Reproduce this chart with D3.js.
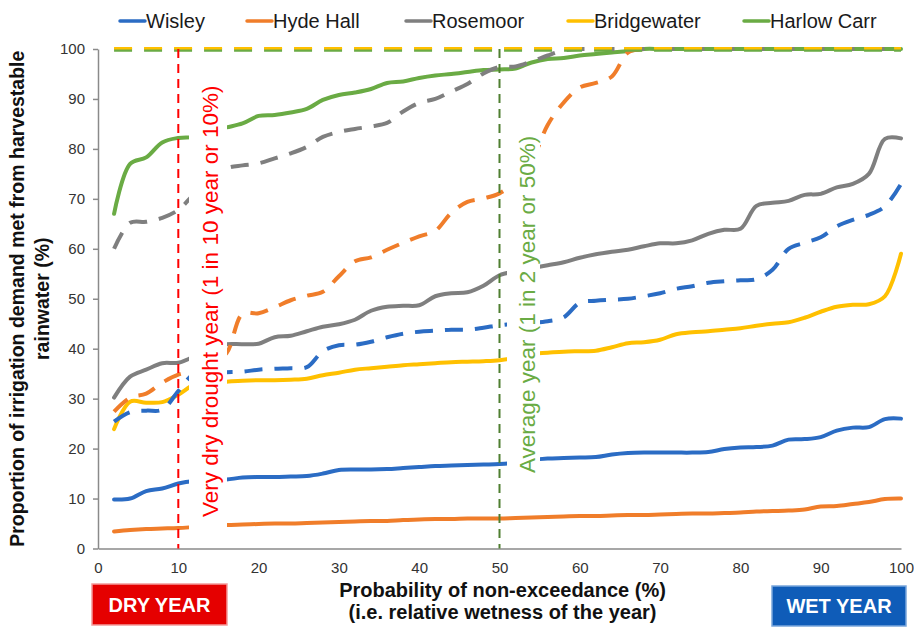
<!DOCTYPE html>
<html>
<head>
<meta charset="utf-8">
<script src="https://cdn.jsdelivr.net/npm/d3@7"></script>
<style>
  body { margin: 0; background: #ffffff; }
  svg { display: block; font-family: "Liberation Sans", Arial, sans-serif; }
</style>
</head>
<body>
<svg id="chart" width="914" height="628"></svg>
<script>
// ---------------- DATA ----------------
const probability = [2,4,6,8,10,12,14,16,18,20,22,24,26,28,30,32,34,36,38,40,
  42,44,46,48,50,52,54,56,58,60,62,64,66,68,70,72,74,76,78,80,
  82,84,86,88,90,92,94,96,98,100];

const wisleySolid = [9.8,10.0,11.5,12.0,13.0,13.5,13.6,13.8,14.2,14.3,
  14.3,14.4,14.5,15.0,15.7,15.8,15.8,15.9,16.1,16.3,
  16.5,16.6,16.7,16.8,16.9,17.2,17.7,18.0,18.1,18.2,
  18.3,18.8,19.1,19.2,19.2,19.2,19.2,19.3,19.9,20.2,
  20.3,20.6,21.8,21.9,22.3,23.6,24.2,24.3,25.9,26.0];
const wisleyDashed = [25.4,27.3,27.6,27.8,31.5,35.0,35.2,35.3,35.4,35.8,
  36.0,36.1,36.3,39.5,40.7,40.8,41.4,42.3,43.0,43.4,
  43.6,43.8,43.8,44.2,44.7,45.0,45.2,45.5,46.3,49.2,
  49.6,49.8,50.0,50.5,51.1,52.0,52.5,53.2,53.5,53.7,
  53.9,55.8,60.0,61.2,62.3,64.5,65.8,66.8,68.5,73.0];

const hydeSolid = [3.4,3.7,3.9,4.0,4.1,4.3,4.5,4.7,4.8,4.9,
  5.0,5.0,5.1,5.2,5.3,5.4,5.5,5.5,5.7,5.8,
  5.9,5.9,6.0,6.0,6.0,6.1,6.2,6.3,6.4,6.5,
  6.5,6.6,6.7,6.7,6.8,6.9,7.0,7.0,7.1,7.2,
  7.4,7.5,7.6,7.8,8.4,8.5,8.9,9.3,9.9,10.0];
const hydeDashed = [27.4,30.2,31.0,33.2,34.8,35.5,37.0,39.1,47.0,47.1,
  48.3,49.7,50.6,51.4,54.5,57.5,58.3,59.8,61.2,62.5,
  63.6,67.2,69.4,70.1,71.1,73.5,77.5,84.8,89.3,92.3,
  93.2,94.5,99.3,100,100,100,100,100,100,100,
  100,100,100,100,100,100,100,100,100,100];

const rosemoorSolid = [30.2,34.4,35.8,37.1,37.2,38.5,40.3,40.9,40.9,41.0,
  42.3,42.6,43.5,44.4,44.9,45.8,47.6,48.4,48.6,48.7,
  50.5,51.1,51.3,52.6,54.7,55.5,56.1,56.7,57.3,58.2,
  58.9,59.4,59.8,60.5,61.1,61.1,61.7,63.0,63.8,64.0,
  68.6,69.2,69.6,70.8,71.0,72.3,73.0,75.0,82.0,82.1];
const rosemoorDashed = [60.0,65.2,65.4,66.2,67.8,71.0,74.0,76.1,76.7,77.1,
  78.1,79.1,80.4,82.4,83.4,84.0,84.5,85.2,87.5,89.2,
  90.0,91.5,93.0,95.1,96.4,96.5,97.5,98.7,99.7,100,
  100,100,100,100,100,100,100,100,100,100,
  100,100,100,100,100,100,100,100,100,100];

const bridgewaterSolid = [23.9,29.4,29.2,29.3,30.8,32.8,33.2,33.4,33.6,33.7,
  33.7,33.8,34.0,34.7,35.2,35.8,36.1,36.4,36.7,36.9,
  37.1,37.3,37.4,37.5,37.7,38.2,39.0,39.2,39.4,39.5,
  39.6,40.3,41.1,41.3,41.8,42.9,43.3,43.5,43.8,44.1,
  44.6,45.0,45.3,46.2,47.4,48.4,48.8,48.9,50.5,59.0];
const bridgewaterDashed = [100,100,100,100,100,100,100,100,100,100,
  100,100,100,100,100,100,100,100,100,100,
  100,100,100,100,100,100,100,100,100,100,
  100,100,100,100,100,100,100,100,100,100,
  100,100,100,100,100,100,100,100,100,100];

const harlowSolid = [67.0,77.0,78.3,81.3,82.2,82.4,83.5,84.3,85.1,86.6,
  86.8,87.3,88.0,89.8,90.8,91.3,92.0,93.2,93.5,94.2,
  94.7,95.0,95.4,95.8,95.9,96.1,97.3,98.0,98.2,98.7,
  99.0,99.3,99.6,100,100,100,100,100,100,100,
  100,100,100,100,100,100,100,100,100,100];
const harlowDashed = [100,100,100,100,100,100,100,100,100,100,
  100,100,100,100,100,100,100,100,100,100,
  100,100,100,100,100,100,100,100,100,100,
  100,100,100,100,100,100,100,100,100,100,
  100,100,100,100,100,100,100,100,100,100];

const seriesNames = ["Wisley", "Hyde Hall", "Rosemoor", "Bridgewater", "Harlow Carr"];
const seriesColors = ["#2b6cc4", "#f07d2a", "#7f7f7f", "#ffc000", "#6aab44"];
const solidSeries = [wisleySolid, hydeSolid, rosemoorSolid, bridgewaterSolid, harlowSolid];
const dashedSeries = [wisleyDashed, hydeDashed, rosemoorDashed, bridgewaterDashed, harlowDashed];

const xTicks = [0,10,20,30,40,50,60,70,80,90,100];
const yTicks = [0,10,20,30,40,50,60,70,80,90,100];

const markers = [
  { value: 10, label: "Very dry drought year (1 in 10 year or 10%)", line: "#ff0000", text: "#ff0000" },
  { value: 50, label: "Average year (1 in 2 year or 50%)", line: "#4f7f30", text: "#6aab44" }
];

const xTitle = ["Probability of non-exceedance (%)", "(i.e. relative wetness of the year)"];
const yTitle = ["Proportion of irrigation demand met from harvestable", "rainwater (%)"];
const yearBoxes = [
  { label: "DRY YEAR", fill: "#e50000", stroke: "#f39a9a" },
  { label: "WET YEAR", fill: "#0f5cb8", stroke: "#7aa6dc" }
];

// ---------------- LAYOUT ----------------
const plot = { left: 98, right: 901, top: 49, bottom: 548.5 };
const svg = d3.select("#chart");

const x = d3.scaleLinear().domain([0, 100]).range([plot.left, plot.right]);
const y = d3.scaleLinear().domain([0, 100]).range([plot.bottom, plot.top]);

const axisColor = "#8a8a8a";
const textColor = "#333333";

// Axes
const yAxis = svg.append("g")
  .attr("transform", `translate(${plot.left},0)`)
  .call(d3.axisLeft(y).tickValues(yTicks).tickSize(5).tickSizeOuter(0).tickPadding(8));
yAxis.select(".domain").attr("stroke", axisColor).attr("stroke-width", 1.5);
yAxis.selectAll(".tick line").attr("stroke", axisColor).attr("stroke-width", 1.5);
yAxis.selectAll(".tick text").attr("font-size", 15).attr("fill", textColor)
  .attr("font-family", '"Liberation Sans", Arial, sans-serif');

const xAxis = svg.append("g")
  .attr("transform", `translate(0,${plot.bottom})`)
  .call(d3.axisBottom(x).tickValues(xTicks).tickSize(0).tickSizeOuter(0).tickPadding(14));
xAxis.select(".domain").attr("stroke", axisColor).attr("stroke-width", 1.5);
xAxis.selectAll(".tick text").attr("font-size", 15).attr("fill", textColor)
  .attr("font-family", '"Liberation Sans", Arial, sans-serif');

// Lines (smoothed like the original)
const lineGen = d3.line()
  .x((d, i) => x(probability[i]))
  .y(d => y(d))
  .curve(d3.curveCatmullRom.alpha(0.5));

const linesG = svg.append("g").attr("fill", "none").attr("stroke-linejoin", "round");

solidSeries.forEach((s, i) => {
  linesG.append("path")
    .attr("d", lineGen(s))
    .attr("stroke", seriesColors[i])
    .attr("stroke-width", 4)
    .attr("stroke-linecap", "round");
});

const dashOrder = [0, 1, 2, 4, 3];
dashOrder.forEach(i => {
  const p = linesG.append("path")
    .attr("d", lineGen(dashedSeries[i]))
    .attr("stroke", seriesColors[i])
    .attr("stroke-width", 4)
    .attr("stroke-dasharray", "18,12");
  if (i === 4) p.attr("transform", "translate(0,0.75)");
  if (i === 3) p.attr("transform", "translate(0,-0.75)").attr("stroke-width", 2.5);
});

// Vertical marker lines
markers.forEach(m => {
  svg.append("line")
    .attr("x1", x(m.value)).attr("x2", x(m.value))
    .attr("y1", y(100)).attr("y2", y(0))
    .attr("stroke", m.line).attr("stroke-width", 2)
    .attr("stroke-dasharray", "9,6");
});

// White label boxes behind the rotated marker text (mask the curves)
const maskBoxes = [
  { x0: 189, x1: 227, y0: 70, y1: 530 },
  { x0: 507, x1: 540, y0: 110, y1: 490 }
];
markers.forEach((m, i) => {
  const b = maskBoxes[i];
  svg.append("rect")
    .attr("x", b.x0).attr("y", b.y0)
    .attr("width", b.x1 - b.x0).attr("height", b.y1 - b.y0)
    .attr("fill", "#ffffff");
});
const markerTextPos = [ { bx: 218, by: 517 }, { bx: 535, by: 473 } ];
markers.forEach((m, i) => {
  const p = markerTextPos[i];
  svg.append("text")
    .attr("transform", `translate(${p.bx},${p.by}) rotate(-90)`)
    .attr("font-size", 22.5)
    .attr("fill", m.text)
    .text(m.label);
});

// Legend
const legendX = [120, 247, 406, 568, 744];
const legend = svg.append("g");
seriesNames.forEach((n, i) => {
  legend.append("line")
    .attr("x1", legendX[i]).attr("x2", legendX[i] + 25)
    .attr("y1", 21).attr("y2", 21)
    .attr("stroke", seriesColors[i]).attr("stroke-width", 3.5)
    .attr("stroke-linecap", "round");
  legend.append("text")
    .attr("x", legendX[i] + 26).attr("y", 28)
    .attr("font-size", 20).attr("fill", "#1a1a1a")
    .text(n);
});

// Axis titles
[597, 619].forEach((by, i) => {
  svg.append("text")
    .attr("x", (plot.left + plot.right) / 2 + 3).attr("y", by)
    .attr("text-anchor", "middle").attr("font-size", 20).attr("font-weight", "bold")
    .attr("fill", "#111").text(xTitle[i]);
});

[24, 49].forEach((bx, i) => {
  svg.append("text")
    .attr("transform", `translate(${bx},${(plot.top + plot.bottom) / 2}) rotate(-90)`)
    .attr("text-anchor", "middle").attr("font-size", 19.5).attr("font-weight", "bold")
    .attr("fill", "#111").text(yTitle[i]);
});

// DRY / WET boxes
const boxGeom = [ { x: 92, y: 584, w: 135, h: 41 }, { x: 772, y: 586, w: 134, h: 40 } ];
yearBoxes.forEach((b, i) => {
  const g = boxGeom[i];
  svg.append("rect")
    .attr("x", g.x).attr("y", g.y).attr("width", g.w).attr("height", g.h)
    .attr("fill", b.fill).attr("stroke", b.stroke).attr("stroke-width", 1.5);
  svg.append("text")
    .attr("x", g.x + g.w / 2).attr("y", g.y + g.h / 2 + 7)
    .attr("text-anchor", "middle").attr("font-size", 20).attr("font-weight", "bold")
    .attr("fill", "#ffffff").text(b.label);
});
</script>
</body>
</html>
